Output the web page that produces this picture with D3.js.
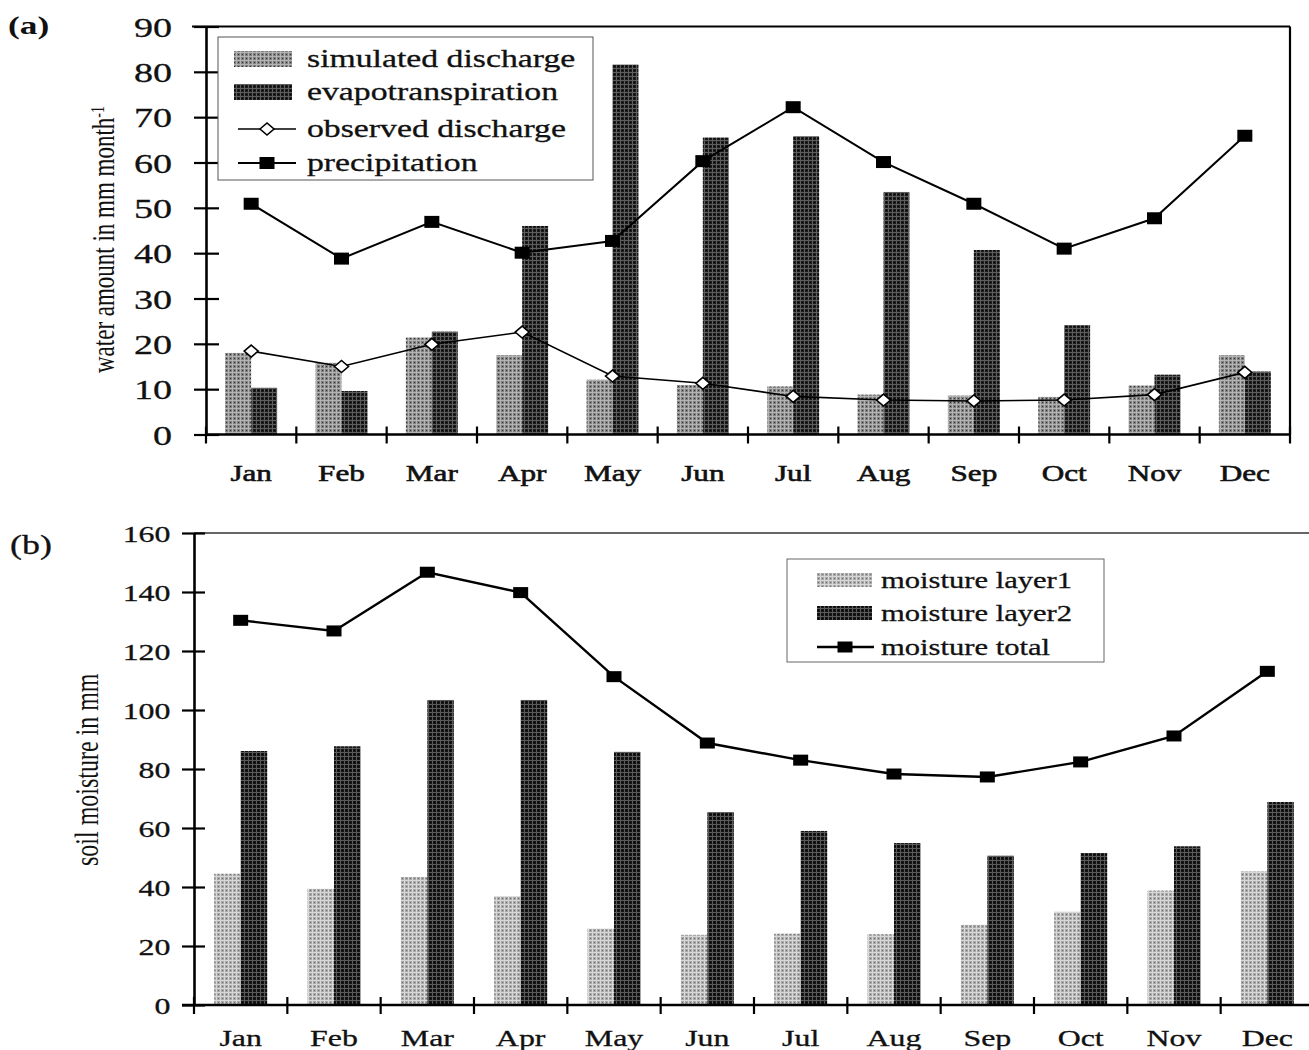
<!DOCTYPE html>
<html>
<head>
<meta charset="utf-8">
<script src="https://cdn.jsdelivr.net/npm/d3@7"></script>
<style>
  body { margin: 0; background: #fff; }
  svg { display: block; }
  text { font-family: "Liberation Serif", "Times New Roman", serif; fill: #111; }
</style>
</head>
<body>
<svg id="chart" width="1309" height="1050"></svg>
<script>
// ---- data (mm per month) ----
const months = ["Jan", "Feb", "Mar", "Apr", "May", "Jun", "Jul", "Aug", "Sep", "Oct", "Nov", "Dec"];

const simulatedDischarge = [18.0, 15.8, 21.4, 17.5, 12.1, 10.9, 10.6, 8.8, 8.6, 8.3, 10.8, 17.5];
const evapotranspiration = [10.3, 9.6, 22.7, 46.0, 81.6, 65.5, 65.8, 53.5, 40.7, 24.1, 13.2, 13.9];
const observedDischarge  = [18.4, 15.0, 19.9, 22.6, 12.9, 11.3, 8.4, 7.6, 7.4, 7.6, 8.8, 13.7];
const precipitation      = [50.9, 38.8, 46.9, 40.1, 42.7, 60.3, 72.2, 60.1, 50.9, 41.0, 47.7, 65.9];

const moistureLayer1 = [44.5, 39.4, 43.4, 36.9, 25.9, 23.8, 24.2, 24.0, 27.2, 31.6, 38.8, 45.3];
const moistureLayer2 = [86.1, 87.7, 103.4, 103.4, 85.8, 65.4, 59.0, 54.9, 50.6, 51.5, 53.8, 68.8];
const moistureTotal  = [130.4, 126.8, 146.7, 139.8, 111.3, 88.8, 83.0, 78.3, 77.3, 82.4, 91.2, 113.1];

const ticksA = [0, 10, 20, 30, 40, 50, 60, 70, 80, 90];
const ticksB = [0, 20, 40, 60, 80, 100, 120, 140, 160];

// ---- helpers ----
const svg = d3.select("#chart");
const defs = svg.append("defs");
const SX = 1.36; // glyphs are drawn horizontally widened

// place a text element with its glyphs widened horizontally
function widen(sel, sx = SX) {
  sel.each(function () {
    const t = d3.select(this);
    const x = +t.attr("x") || 0, y = +t.attr("y") || 0;
    t.attr("x", 0).attr("y", 0).attr("transform", `translate(${x},${y}) scale(${sx},1)`);
  });
}

// screen-tone fills for the bars
function tone(id, base, light, dark) {
  const p = defs.append("pattern").attr("id", id)
    .attr("patternUnits", "userSpaceOnUse").attr("width", 4).attr("height", 4);
  p.append("rect").attr("width", 4).attr("height", 4).attr("fill", base);
  p.append("rect").attr("width", 4).attr("height", 1).attr("fill", light);
  p.append("rect").attr("width", 1).attr("height", 4).attr("fill", light);
  p.append("rect").attr("x", 2).attr("y", 2).attr("width", 1).attr("height", 1).attr("fill", dark);
  return `url(#${id})`;
}
const fillSim = tone("tSim", "#808080", "#b4b4b4", "#333");
const fillEvap = tone("tEvap", "#1c1c1c", "#5e5e5e", "#000");
const fillL1 = tone("tL1", "#a8a8a8", "#d8d8d8", "#707070");
const fillL2 = tone("tL2", "#161616", "#5a5a5a", "#000");

function diamond(g, cx, cy) {
  g.append("path")
    .attr("d", `M${cx - 7},${cy}L${cx},${cy - 6}L${cx + 7},${cy}L${cx},${cy + 6}Z`)
    .attr("fill", "#fff").attr("stroke", "#000").attr("stroke-width", 1.6);
}

// =================== panel (a) ===================
const A = { left: 206, right: 1290, top: 26.5, bottom: 434.5 };
const xa = d3.scaleBand().domain(months).range([A.left, A.right]).padding(0);
const ya = d3.scaleLinear().domain([0, 90]).range([A.bottom, A.top]);
const xa1 = d3.scaleBand().domain(["sim", "evap"]).range([0, xa.bandwidth()])
  .paddingInner(0).paddingOuter(0.74);

const gA = svg.append("g");

// frame: top and right
gA.append("line").attr("x1", A.left - 14).attr("x2", A.right).attr("y1", A.top).attr("y2", A.top)
  .attr("stroke", "#000").attr("stroke-width", 2.2);
gA.append("line").attr("x1", A.right).attr("x2", A.right).attr("y1", A.top).attr("y2", A.bottom)
  .attr("stroke", "#000").attr("stroke-width", 2.2);

// bars
const barsA = gA.append("g");
months.forEach((m, i) => {
  barsA.append("rect").attr("x", xa(m) + xa1("sim")).attr("width", xa1.bandwidth())
    .attr("y", ya(simulatedDischarge[i])).attr("height", ya(0) - ya(simulatedDischarge[i]))
    .attr("fill", fillSim);
  barsA.append("rect").attr("x", xa(m) + xa1("evap")).attr("width", xa1.bandwidth())
    .attr("y", ya(evapotranspiration[i])).attr("height", ya(0) - ya(evapotranspiration[i]))
    .attr("fill", fillEvap);
});

// y axis (a)
const axA = gA.append("g").attr("transform", `translate(${A.left},0)`)
  .call(d3.axisLeft(ya).tickValues(ticksA).tickSize(12).tickSizeOuter(0));
axA.select(".domain").attr("stroke", "#000").attr("stroke-width", 2.6);
axA.selectAll(".tick line").attr("x1", 13).attr("x2", -12).attr("stroke", "#000").attr("stroke-width", 2.2);
axA.selectAll(".tick text").attr("x", -34).attr("dy", "0.34em")
  .style("font-size", "28px").style("font-family", "Liberation Serif").attr("fill", "#111")
  .attr("stroke", "#111").attr("stroke-width", 0.3);
widen(axA.selectAll(".tick text"));

// x axis (a)
gA.append("line").attr("x1", A.left).attr("x2", A.right).attr("y1", A.bottom).attr("y2", A.bottom)
  .attr("stroke", "#000").attr("stroke-width", 2.6);
const edgesA = months.map(m => xa(m)).concat([A.right]);
gA.append("g").selectAll("line").data(edgesA).join("line")
  .attr("x1", d => d).attr("x2", d => d).attr("y1", A.bottom - 8).attr("y2", A.bottom + 9)
  .attr("stroke", "#000").attr("stroke-width", 2.2);
const axAx = gA.append("g").attr("transform", `translate(0,${A.bottom})`)
  .call(d3.axisBottom(xa).tickSize(0));
axAx.select(".domain").remove();
axAx.selectAll(".tick text").attr("y", 46.5).attr("dy", 0)
  .style("font-size", "24px").style("font-family", "Liberation Serif")
  .attr("fill", "#111").attr("stroke", "#111").attr("stroke-width", 0.6);
widen(axAx.selectAll(".tick text"), 1.3);

// lines (a)
const cx = m => xa(m) + xa.bandwidth() / 2;
const lineA = (vals) => d3.line().x((d, i) => cx(months[i])).y(d => ya(d))(vals);
gA.append("path").attr("d", lineA(precipitation)).attr("fill", "none")
  .attr("stroke", "#000").attr("stroke-width", 2);
gA.append("path").attr("d", lineA(observedDischarge)).attr("fill", "none")
  .attr("stroke", "#000").attr("stroke-width", 1.6);
months.forEach((m, i) => {
  gA.append("rect").attr("x", cx(m) - 7.5).attr("y", ya(precipitation[i]) - 6)
    .attr("width", 15).attr("height", 12).attr("fill", "#000");
  diamond(gA, cx(m), ya(observedDischarge[i]));
});

// y title (a)
const tA = gA.append("text")
  .attr("transform", `translate(114,373) rotate(-90) scale(1,${SX})`)
  .style("font-size", "23px");
tA.append("tspan").text("water amount in mm month");
tA.append("tspan").attr("dy", "-0.55em").style("font-size", "14px").text("-1");

// panel letter
const la = gA.append("text").attr("x", 8).attr("y", 34).style("font-size", "26px").style("font-weight", "bold").text("(a)");
widen(la);

// legend (a)
const legA = gA.append("g");
legA.append("rect").attr("x", 218).attr("y", 37).attr("width", 375).attr("height", 143)
  .attr("fill", "#fff").attr("stroke", "#555").attr("stroke-width", 1);
const legAItems = ["simulated discharge", "evapotranspiration", "observed discharge", "precipitation"];
const legARows = [59, 92, 129, 163];
legA.append("rect").attr("x", 234).attr("y", legARows[0] - 8).attr("width", 58).attr("height", 16).attr("fill", fillSim);
legA.append("rect").attr("x", 234).attr("y", legARows[1] - 8).attr("width", 58).attr("height", 16).attr("fill", fillEvap);
legA.append("line").attr("x1", 238).attr("x2", 296).attr("y1", legARows[2]).attr("y2", legARows[2])
  .attr("stroke", "#000").attr("stroke-width", 1.6);
diamond(legA, 267, legARows[2]);
legA.append("line").attr("x1", 238).attr("x2", 296).attr("y1", legARows[3]).attr("y2", legARows[3])
  .attr("stroke", "#000").attr("stroke-width", 2);
legA.append("rect").attr("x", 259.5).attr("y", legARows[3] - 6).attr("width", 15).attr("height", 12).attr("fill", "#000");
const legAText = legA.selectAll("text.lt").data(legAItems).join("text").attr("class", "lt")
  .attr("x", 307).attr("y", (d, i) => legARows[i] + 8).style("font-size", "25px")
  .attr("stroke", "#111").attr("stroke-width", 0.3).text(d => d);
widen(legAText, 1.35);

// =================== panel (b) ===================
const B = { left: 194, right: 1314, top: 533, bottom: 1005 };
const xb = d3.scaleBand().domain(months).range([B.left, B.right]).padding(0);
const yb = d3.scaleLinear().domain([0, 160]).range([B.bottom, B.top]);
const xb1 = d3.scaleBand().domain(["l1", "l2"]).range([0, xb.bandwidth()])
  .paddingInner(0).paddingOuter(0.76);

const gB = svg.append("g");

// top frame line
gB.append("line").attr("x1", B.left).attr("x2", B.right).attr("y1", B.top).attr("y2", B.top)
  .attr("stroke", "#333").attr("stroke-width", 1.6);

// bars
months.forEach((m, i) => {
  gB.append("rect").attr("x", xb(m) + xb1("l1")).attr("width", xb1.bandwidth())
    .attr("y", yb(moistureLayer1[i])).attr("height", yb(0) - yb(moistureLayer1[i]))
    .attr("fill", fillL1);
  gB.append("rect").attr("x", xb(m) + xb1("l2")).attr("width", xb1.bandwidth())
    .attr("y", yb(moistureLayer2[i])).attr("height", yb(0) - yb(moistureLayer2[i]))
    .attr("fill", fillL2);
});

// y axis (b)
const axB = gB.append("g").attr("transform", `translate(${B.left},0)`)
  .call(d3.axisLeft(yb).tickValues(ticksB).tickSize(12).tickSizeOuter(0));
axB.select(".domain").attr("stroke", "#000").attr("stroke-width", 2.6);
axB.selectAll(".tick line").attr("x1", 11).attr("x2", -12).attr("stroke", "#000").attr("stroke-width", 2.2);
axB.selectAll(".tick text").attr("x", -23.5).attr("dy", "0.34em")
  .style("font-size", "24px").style("font-family", "Liberation Serif").attr("fill", "#111")
  .attr("stroke", "#111").attr("stroke-width", 0.3);
widen(axB.selectAll(".tick text"), 1.33);

// x axis (b)
gB.append("line").attr("x1", B.left - 12).attr("x2", B.right).attr("y1", B.bottom).attr("y2", B.bottom)
  .attr("stroke", "#000").attr("stroke-width", 2.6);
const edgesB = months.map(m => xb(m));
gB.append("g").selectAll("line").data(edgesB).join("line")
  .attr("x1", d => d).attr("x2", d => d).attr("y1", B.bottom - 8).attr("y2", B.bottom + 9)
  .attr("stroke", "#000").attr("stroke-width", 2.2);
const axBx = gB.append("g").attr("transform", `translate(0,${B.bottom})`)
  .call(d3.axisBottom(xb).tickSize(0));
axBx.select(".domain").remove();
axBx.selectAll(".tick text").attr("y", 41).attr("dy", 0)
  .style("font-size", "24px").style("font-family", "Liberation Serif").attr("fill", "#111")
  .attr("stroke", "#111").attr("stroke-width", 0.3);
widen(axBx.selectAll(".tick text"), 1.33);

// total moisture line
const cxb = m => xb(m) + xb.bandwidth() / 2;
gB.append("path")
  .attr("d", d3.line().x((d, i) => cxb(months[i])).y(d => yb(d))(moistureTotal))
  .attr("fill", "none").attr("stroke", "#000").attr("stroke-width", 2.4);
months.forEach((m, i) => {
  gB.append("rect").attr("x", cxb(m) - 7.5).attr("y", yb(moistureTotal[i]) - 5.5)
    .attr("width", 15).attr("height", 11).attr("fill", "#000");
});

// y title (b)
gB.append("text")
  .attr("transform", `translate(98,866) rotate(-90) scale(1,${SX})`)
  .style("font-size", "24px").text("soil moisture in mm");

// panel letter
const lb = gB.append("text").attr("x", 10).attr("y", 554).style("font-size", "27px")
  .attr("stroke", "#111").attr("stroke-width", 0.3).text("(b)");
widen(lb, 1.33);

// legend (b)
const legB = gB.append("g");
legB.append("rect").attr("x", 787).attr("y", 559).attr("width", 317).attr("height", 103)
  .attr("fill", "#fff").attr("stroke", "#666").attr("stroke-width", 1);
const legBItems = ["moisture layer1", "moisture layer2", "moisture total"];
const legBRows = [580, 613, 647];
legB.append("rect").attr("x", 817).attr("y", legBRows[0] - 7).attr("width", 55).attr("height", 14).attr("fill", fillL1);
legB.append("rect").attr("x", 817).attr("y", legBRows[1] - 7).attr("width", 55).attr("height", 14).attr("fill", fillL2);
legB.append("line").attr("x1", 817).attr("x2", 874).attr("y1", legBRows[2]).attr("y2", legBRows[2])
  .attr("stroke", "#000").attr("stroke-width", 2.4);
legB.append("rect").attr("x", 837.5).attr("y", legBRows[2] - 5.5).attr("width", 15).attr("height", 11).attr("fill", "#000");
const legBText = legB.selectAll("text.lt").data(legBItems).join("text").attr("class", "lt")
  .attr("x", 881).attr("y", (d, i) => legBRows[i] + 8).style("font-size", "23px")
  .attr("stroke", "#111").attr("stroke-width", 0.3).text(d => d);
widen(legBText, 1.33);
</script>
</body>
</html>
